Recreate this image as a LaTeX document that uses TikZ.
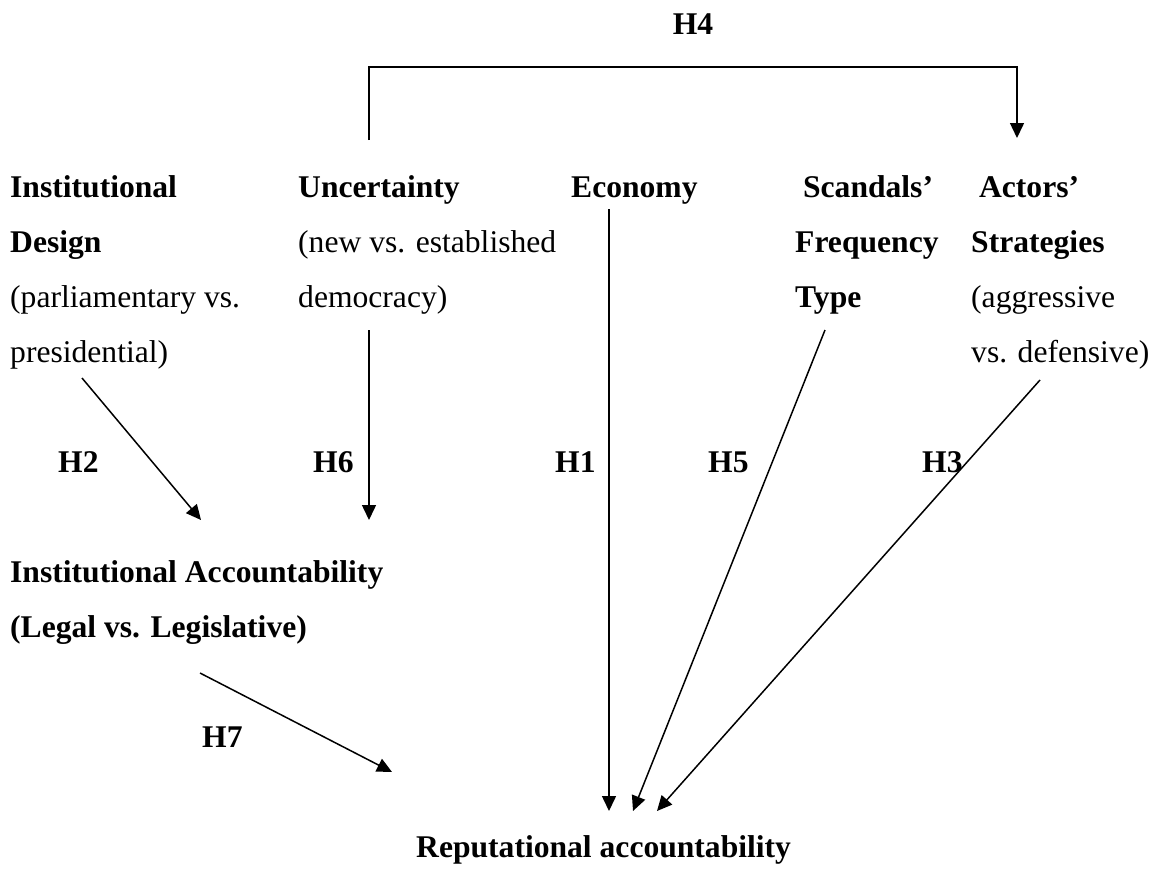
\documentclass[tikz,border=0pt]{standalone}
\usepackage{fontspec}
\setmainfont{Liberation Serif}
\usetikzlibrary{arrows.meta}
\newcommand{\diagfont}{\fontsize{31.6}{55}\selectfont}
\tikzset{
  block/.style={inner sep=0, anchor=north west, align=left, font=\diagfont},
  hyp/.style={inner sep=0, anchor=base west, font=\diagfont\bfseries},
  link/.style={line width=1.5pt, -{Triangle[width=14pt,length=15pt]}}
}
\begin{document}
\begin{tikzpicture}[x=1pt, y=-1pt]
            \useasboundingbox (0,0) rectangle (1150,870);

            \node[block] (design) at (10,159) {\strut\textbf{Institutional}\\\textbf{Design}\\(parliamentary vs.\\presidential)};
            \node[block] (uncert) at (298,159) {\strut\textbf{Uncertainty}\\(new vs. established\\democracy)};
            \node[block] (econ) at (571,159) {\strut\textbf{Economy}};
            \node[block] (scand) at (795,159) {\strut\textbf{\ Scandals'}\\\textbf{Frequency}\\\textbf{Type}};
            \node[block] (actors) at (971,159) {\strut\textbf{\ Actors'}\\\textbf{Strategies}\\(aggressive\\vs. defensive)};
            \node[block, font=\diagfont\bfseries] (instacc) at (10,544) {\strut Institutional Accountability\\(Legal vs. Legislative)};
            \node[block, font=\diagfont\bfseries] (reput) at (416,819) {\strut Reputational accountability};

            \node[hyp, anchor=base] (h4) at (693,34) {H4};
            \node[hyp] (h2) at (58,472.5) {H2};
            \node[hyp] (h6) at (313,472.5) {H6};
            \node[hyp] (h1) at (555,472.5) {H1};
            \node[hyp] (h5) at (708,472.5) {H5};
            \node[hyp] (h3) at (922,472.5) {H3};
            \node[hyp] (h7) at (202,747.5) {H7};

            \coordinate (h4from) at (369,140);
            \coordinate (h4top) at (693,67);
            \coordinate (h4to) at (1017,138);
            \coordinate (h2from) at (82,378);
            \coordinate (h2to) at (201,520);
            \coordinate (h6from) at (369,330);
            \coordinate (h6to) at (369,520);
            \coordinate (h1from) at (609,209);
            \coordinate (h1to) at (609,811);
            \coordinate (h5from) at (825,330);
            \coordinate (h5to) at (633,811);
            \coordinate (h3from) at (1040,380);
            \coordinate (h3to) at (657,811);
            \coordinate (h7from) at (200,673);
            \coordinate (h7to) at (392,772);

            \draw[link] (h4from) |- (h4top) -| (h4to);
            \draw[link] (h2from) -- (h2to);
            \draw[link] (h6from) -- (h6to);
            \draw[link] (h1from) -- (h1to);
            \draw[link] (h5from) -- (h5to);
            \draw[link] (h3from) -- (h3to);
            \draw[link] (h7from) -- (h7to);
        \end{tikzpicture}
\end{document}
